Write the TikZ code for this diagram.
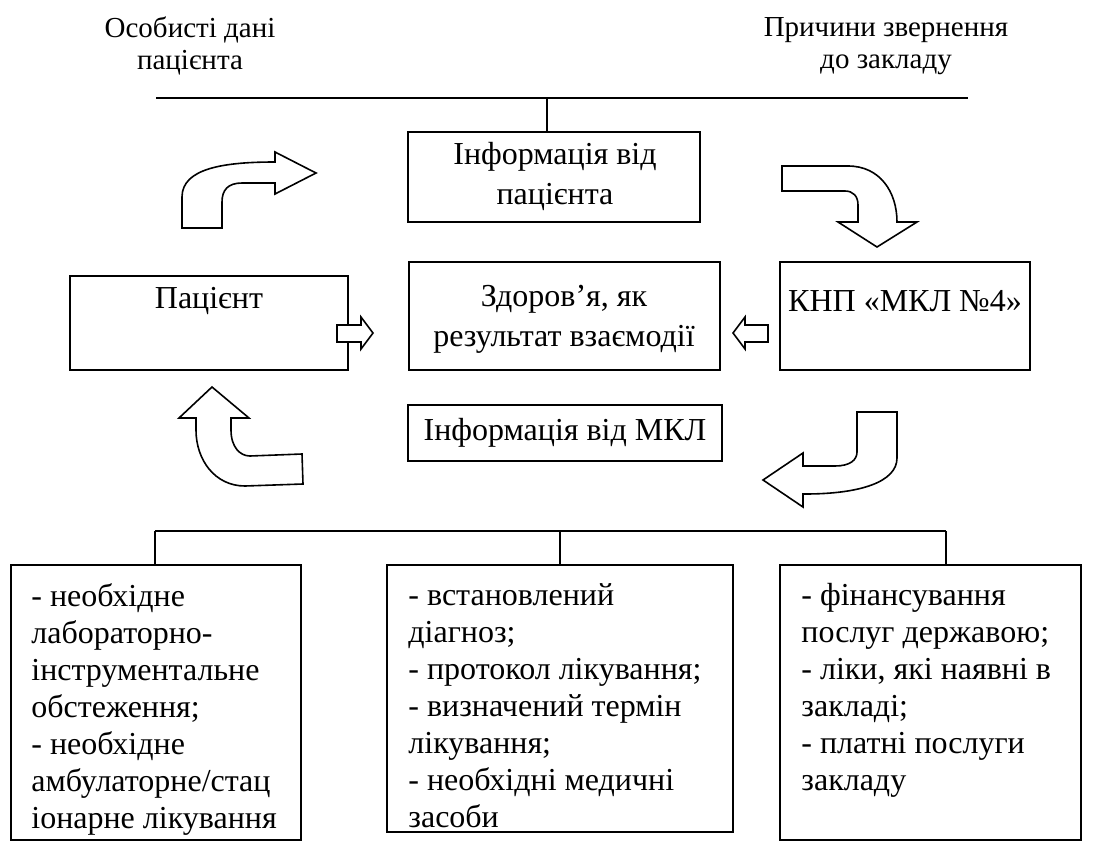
\documentclass[tikz,border=0pt]{standalone}
\usepackage{fontspec}
\setmainfont{Liberation Serif}
\usetikzlibrary{fit}
\begin{document}
\begin{tikzpicture}[x=0.5pt,y=-0.5pt,
  box/.style={draw, line width=0.75pt, inner sep=0pt},
  txt/.style={font=\fontsize{16}{20}\selectfont, align=center, inner sep=0pt},
  btxt/.style={font=\fontsize{16}{18.5}\selectfont, align=left, inner sep=0pt, anchor=north west},
  lbl/.style={font=\fontsize{14.5}{16}\selectfont, align=center, inner sep=0pt},
  conn/.style={line width=0.75pt},
  bigarrow/.style={draw, line width=0.8pt, fill=white, line join=miter},
]
\useasboundingbox (0,0) rectangle (1094,868);

% top labels
\node[lbl] (lblA) at (190,46) {Особисті дані\\пацієнта};
\node[lbl] (lblB) at (886,46) {Причини звернення\\до закладу};

% top bracket
\coordinate (tL) at (156,98);
\coordinate (tR) at (968,98);
\coordinate (tM) at (547,98);
\draw[conn] (tL) -- (tR);

% boxes
\node[box, fit={(408,132) (700,222)}] (info) {};
\node[txt] (infoT) at (555,176) {Інформація від\\пацієнта};
\draw[conn] (tM) -- (tM |- info.north);

\node[box, fit={(70,276) (348,370)}] (pat) {};
\node[txt] (patT) at (209,301) {Пацієнт};

\node[box, fit={(409,262) (720,370)}] (health) {};
\node[txt] (healthT) at (564,319) {Здоров’я, як\\результат взаємодії};

\node[box, fit={(780,262) (1030,370)}] (knp) {};
\node[txt] (knpT) at (905,301) {КНП «МКЛ №4»};

\node[box, fit={(408,405) (722,461)}] (mkl) {};
\node[txt] (mklT) at (565,433) {Інформація від МКЛ};

% small arrows
\draw[bigarrow] (337,325) -- (361,325) -- (361,317) -- (373,333) -- (361,349) -- (361,342) -- (337,342) -- cycle;
\draw[bigarrow] (768,325) -- (745,325) -- (745,317) -- (733,333) -- (745,349) -- (745,342) -- (768,342) -- cycle;

% curved arrows
\draw[bigarrow] (182,228) -- (182,197) .. controls (182,168) and (225,162) .. (275,162) -- (275,152) -- (316,173) -- (275,194) -- (275,183) -- (242,183) .. controls (228,183) and (222,190) .. (222,202) -- (222,228) -- cycle;

\draw[bigarrow] (782,166) -- (848,166) .. controls (880,166) and (897,192) .. (897,222) -- (917,222) -- (877,247) -- (838,222) -- (858,222) -- (858,205) .. controls (858,196) and (853,191) .. (845,191) -- (782,191) -- cycle;

\draw[bigarrow] (212,387) -- (249,418) -- (231,418) -- (231,430) .. controls (231,447) and (240,456) .. (250,456) -- (302,454) -- (303,484) -- (245,486) .. controls (215,486) and (196,460) .. (196,430) -- (196,418) -- (179,418) -- cycle;

\draw[bigarrow] (857,412) -- (897,412) -- (897,458) .. controls (897,482) and (860,494) .. (805,494) -- (803,494) -- (803,507) -- (763,480) -- (803,453) -- (803,466) -- (835,466) .. controls (850,466) and (857,460) .. (857,452) -- cycle;

% bottom bracket
\coordinate (bL) at (155,531);
\coordinate (bM) at (560,531);
\coordinate (bR) at (946,531);
\draw[conn] (bL) -- (bR);

\node[box, fit={(11,565) (301,840)}] (b1) {};
\node[box, fit={(387,565) (733,832)}] (b2) {};
\node[box, fit={(780,565) (1081,840)}] (b3) {};
\draw[conn] (bL) -- (bL |- b1.north);
\draw[conn] (bM) -- (bM |- b2.north);
\draw[conn] (bR) -- (bR |- b3.north);

\node[btxt] (b1T) at (31,583) {- необхідне\\лабораторно-\\інструментальне\\обстеження;\\- необхідне\\амбулаторне/стац\\іонарне лікування};
\node[btxt] (b2T) at (408,583) {- встановлений\\діагноз;\\- протокол лікування;\\- визначений термін\\лікування;\\- необхідні медичні\\засоби};
\node[btxt] (b3T) at (801,583) {- фінансування\\послуг державою;\\- ліки, які наявні в\\закладі;\\- платні послуги\\закладу};
\end{tikzpicture}
\end{document}
